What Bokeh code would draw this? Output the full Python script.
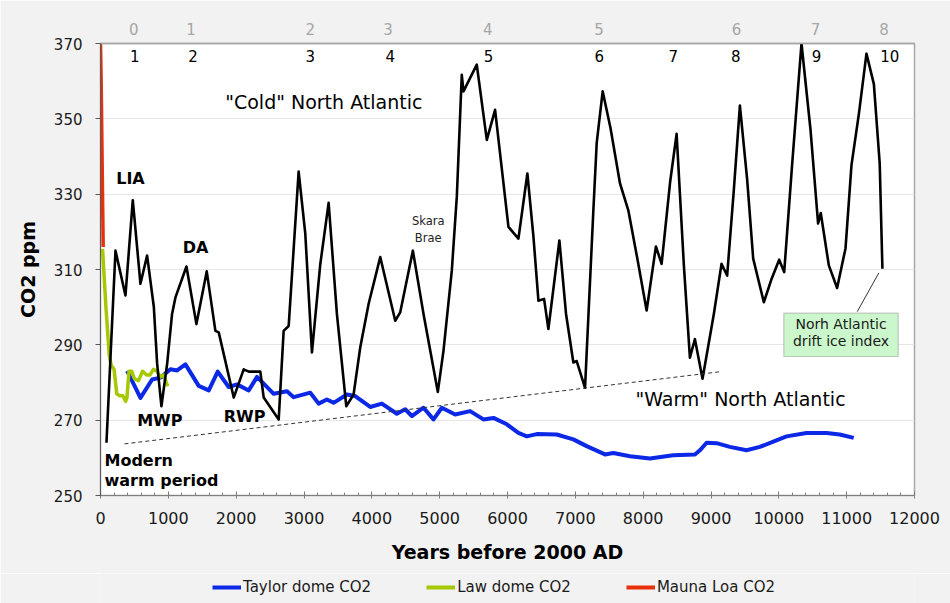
from bokeh.plotting import figure
from bokeh.layouts import column
from bokeh.models import (LinearAxis, FixedTicker, SingleIntervalTicker, Legend, LegendItem,
                          Label, BoxAnnotation, Range1d, ColumnDataSource)
from bokeh.core.properties import value
from bokeh.embed import file_html
from bokeh.resources import INLINE

FONT = "DejaVu Sans"

# ---- data ----
ice_years = [88, 221, 368, 476, 589, 687, 786, 835, 898, 982, 1055, 1105, 1267, 1414, 1566, 1694,
             1743, 1964, 2111, 2185, 2356, 2406, 2627, 2700, 2774, 2921, 3019, 3117, 3240, 3363,
             3485, 3623, 3731, 3829, 3953, 4124, 4345, 4418, 4605, 4762, 4973, 5056, 5179, 5253,
             5326, 5351, 5547, 5695, 5817, 6014, 6161, 6293, 6382, 6456, 6539, 6603, 6765, 6863,
             6971, 7020, 7143, 7266, 7315, 7403, 7519, 7658, 7781, 7912, 8051, 8188, 8272, 8398,
             8493, 8600, 8689, 8763, 8875, 9042, 9155, 9238, 9337, 9426, 9533, 9622, 9779, 9893,
             10005, 10079, 10197, 10334, 10467, 10579, 10618, 10737, 10859, 10983, 11071, 11180,
             11292, 11401, 11487, 11527]
ice_co2 = [264.0, 315.0, 303.1, 328.4, 306.2, 313.7, 300.1, 285.0, 273.7, 284.9, 298.2, 302.6,
           310.8, 295.5, 309.5, 293.7, 293.3, 276.0, 283.5, 282.9, 282.9, 276.0, 270.2, 293.7,
           295.0, 336.0, 319.5, 288.0, 311.4, 327.7, 298.2, 273.7, 276.8, 289.3, 300.9, 313.3,
           296.4, 298.6, 315.0, 298.2, 277.5, 288.4, 309.7, 329.4, 361.7, 357.3, 364.4, 344.4,
           352.4, 321.3, 318.2, 335.5, 318.8, 301.7, 302.2, 294.2, 317.7, 298.2, 285.3, 285.7,
           278.6, 325.8, 343.6, 357.3, 347.5, 332.9, 325.7, 313.1, 299.1, 316.1, 311.5, 333.3,
           346.0, 311.1, 286.6, 291.5, 281.0, 298.2, 311.5, 308.4, 331.2, 353.5, 333.9, 312.9,
           301.3, 307.5, 312.6, 309.3, 338.1, 370.0, 347.1, 322.2, 325.0, 311.1, 305.1, 315.6,
           337.7, 351.3, 367.3, 359.2, 338.2, 310.2]

taylor_years = [393, 589, 761, 884, 1031, 1129, 1252, 1448, 1596, 1728, 1890, 2013, 2185, 2308,
                2553, 2749, 2848, 3093, 3216, 3338, 3436, 3633, 3755, 3976, 4148, 4369, 4492,
                4590, 4762, 4909, 5032, 5228, 5449, 5645, 5793, 5990, 6161, 6284, 6431, 6726,
                6971, 7167, 7437, 7560, 7806, 8100, 8443, 8763, 8836, 8935, 9082, 9278, 9524,
                9720, 10113, 10408, 10703, 10898, 11104]
taylor_co2 = [283.1, 275.9, 280.8, 281.3, 283.5, 283.2, 284.8, 279.1, 277.9, 282.9, 278.8, 279.5,
              277.9, 281.5, 277.0, 277.7, 276.1, 277.3, 274.4, 275.5, 274.6, 276.8, 276.4, 273.5,
              274.4, 271.7, 272.9, 271.1, 273.3, 270.2, 273.3, 271.5, 272.4, 270.2, 270.6, 268.9,
              266.6, 265.7, 266.3, 266.2, 264.9, 263.1, 260.9, 261.3, 260.4, 259.8, 260.7, 260.9,
              262.0, 264.0, 263.9, 262.9, 262.0, 262.9, 265.7, 266.6, 266.6, 266.2, 265.3]

law_years = [30, 80, 130, 160, 200, 240, 280, 330, 370, 390, 420, 460, 500, 560, 620, 680, 730,
             780, 830, 880, 930, 990]
law_co2 = [315.5, 300.0, 287.0, 284.5, 283.5, 277.0, 276.5, 276.5, 275.0, 276.0, 283.0, 283.0,
           281.0, 280.5, 283.0, 282.0, 282.0, 283.5, 283.0, 281.5, 282.0, 279.0]

mauna_years = [0, 10, 20, 30, 40]
mauna_co2 = [370.0, 360.0, 345.0, 330.0, 316.0]

trend_years = [353, 9155]
trend_co2 = [263.7, 282.9]

event_x = [505, 1365, 3093, 4271, 5719, 7353, 8443, 9367, 10555, 11635]
event_labels = ["1", "2", "3", "4", "5", "6", "7", "8", "9", "10"]

bond_x = [490, 1336, 3093, 4237, 5710, 7349, 9377, 10541, 11551]
bond_labels = ["0", "1", "2", "3", "4", "5", "6", "7", "8"]

y_ticks = [250, 270, 290, 310, 330, 350, 370]

series_names = ["Taylor dome CO2", "Law dome CO2", "Mauna Loa CO2"]
series_colors = ["#0a28e6", "#a6c800", "#e8300a"]
series_data = [(taylor_years, taylor_co2), (law_years, law_co2), (mauna_years, mauna_co2)]

BG = "#f2f2f2"

# ---- main figure ----
p = figure(width=950, height=573, x_range=Range1d(0, 12000), y_range=Range1d(250, 370),
           output_backend="svg", toolbar_location=None,
           min_border_left=100, min_border_right=36, min_border_top=43, min_border_bottom=78,
           background_fill_color="white", border_fill_color=BG)
p.outline_line_color = "#a6a6a6"
p.outline_line_width = 1.5

xa = p.xaxis[0]
xa.ticker = SingleIntervalTicker(interval=1000, num_minor_ticks=5)
xa.axis_label = "Years before 2000 AD"
xa.axis_label_text_font = FONT
xa.axis_label_text_font_style = "bold"
xa.axis_label_text_font_size = "19px"
xa.axis_label_text_color = "black"
xa.axis_label_standoff = 14
xa.major_label_text_font = FONT
xa.major_label_text_font_size = "16px"
xa.major_label_text_color = "#1a1a1a"
xa.major_label_standoff = 13
xa.axis_line_color = "#7f7f7f"
xa.major_tick_line_color = "#7f7f7f"
xa.minor_tick_line_color = "#7f7f7f"
xa.major_tick_in = 4
xa.major_tick_out = 3
xa.minor_tick_in = 3
xa.minor_tick_out = 0

ya = p.yaxis[0]
ya.ticker = FixedTicker(ticks=y_ticks)
ya.axis_label = "CO2 ppm"
ya.axis_label_text_font = FONT
ya.axis_label_text_font_style = "bold"
ya.axis_label_text_font_size = "19px"
ya.axis_label_text_color = "black"
ya.axis_label_standoff = 12
ya.major_label_text_font = FONT
ya.major_label_text_font_size = "15px"
ya.major_label_text_color = "#1a1a1a"
ya.major_label_standoff = 13
ya.axis_line_color = "#595959"
ya.major_tick_line_color = "#595959"
ya.major_tick_in = 0
ya.major_tick_out = 5
ya.minor_tick_line_color = None

top = LinearAxis(ticker=FixedTicker(ticks=bond_x),
                 major_label_overrides={k: v for k, v in zip(bond_x, bond_labels)})
top.major_label_text_font = FONT
top.major_label_text_font_size = "15px"
top.major_label_text_color = "#a6a6a6"
top.major_tick_line_color = None
top.minor_tick_line_color = None
top.major_tick_out = 0
top.major_label_standoff = 9
top.axis_line_color = "#a6a6a6"
top.axis_line_width = 1.5
p.add_layout(top, "above")

p.xgrid.visible = False
p.ygrid.ticker = FixedTicker(ticks=y_ticks)
p.ygrid.grid_line_color = "#e6e6e6"

# series
p.line(taylor_years, taylor_co2, line_color=series_colors[0], line_width=4, line_join="round")
p.line(law_years, law_co2, line_color=series_colors[1], line_width=3.5, line_join="round")
p.line(ice_years, ice_co2, line_color="black", line_width=2.6, line_join="round")
p.line(mauna_years, mauna_co2, line_color=series_colors[2], line_width=3.5)
p.line(trend_years, trend_co2, line_color="#333333", line_width=1, line_dash="4 3")

src = ColumnDataSource(dict(x=event_x, y=[366.8] * len(event_x), t=event_labels))
p.text(x="x", y="y", text="t", source=src, text_align="center", text_baseline="middle",
       text_font=value(FONT), text_font_size="15px", text_color="black")

def lab(x, y, t, size, bold=False, align="center", color="black"):
    p.add_layout(Label(x=x, y=y, text=t, text_font=FONT, text_font_size=size,
                       text_font_style="bold" if bold else "normal", text_align=align,
                       text_baseline="middle", text_color=color))

lab(442, 334.2, "LIA", "16px", True)
lab(1400, 315.9, "DA", "16px", True)
lab(874, 269.8, "MWP", "16px", True)
lab(2123, 271.1, "RWP", "16px", True)
lab(59, 259.2, "Modern", "16px", True, "left")
lab(59, 254.1, "warm period", "16px", True, "left")
lab(3292, 354.4, '"Cold" North Atlantic', "19px")
lab(9435, 275.6, '"Warm" North Atlantic', "19px")
lab(4831, 323.0, "Skara", "11.5px", color="#222222")
lab(4831, 318.4, "Brae", "11.5px", color="#222222")

p.line([11156, 11474], [298.8, 309.1], line_color="#333333", line_width=1)
p.add_layout(BoxAnnotation(left=10073, right=11760, bottom=286.9, top=298.4,
                           fill_color="#ccf7cc", fill_alpha=1, line_color="#555555",
                           line_width=1.2))
lab(10917, 295.5, "Norh Atlantic", "14px", color="#1a1a1a")
lab(10917, 290.9, "drift ice index", "14px", color="#1a1a1a")

# ---- legend strip (separate figure under the chart; series lie outside its view) ----
lg = figure(width=950, height=30, x_range=Range1d(0, 1), y_range=Range1d(0, 1),
            output_backend="svg", toolbar_location=None, x_axis_type=None, y_axis_type=None,
            min_border=0, background_fill_color=BG, border_fill_color=BG)
lg.outline_line_color = None
lg.grid.visible = False
handles = [lg.line(xs, ys, line_color=c, line_width=4)
           for (xs, ys), c in zip(series_data, series_colors)]
legend = Legend(items=[LegendItem(label=n, renderers=[h]) for n, h in zip(series_names, handles)],
                orientation="horizontal", location=(112, 7),
                padding=0, margin=0, spacing=55, label_standoff=2,
                glyph_width=29, glyph_height=14, label_height=14,
                label_text_font=FONT, label_text_font_size="15px",
                label_text_color="#1a1a1a",
                background_fill_alpha=0, border_line_color=None)
lg.add_layout(legend)

layout = column(p, lg, spacing=0)
open("out.html", "w").write(file_html(layout, INLINE))
